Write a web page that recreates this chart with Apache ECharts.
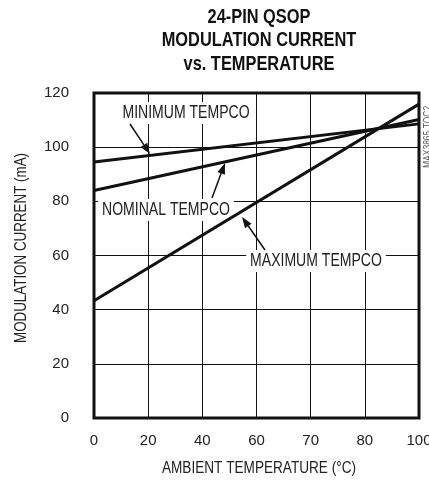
<!DOCTYPE html>
<html><head><meta charset="utf-8">
<script src="https://cdn.jsdelivr.net/npm/echarts@6/dist/echarts.min.js"></script>
<style>html,body{margin:0;padding:0;background:#fff}#c{width:429px;height:481px}</style>
</head><body><div id="c"></div>
<script>
var FONT = '"Liberation Sans",Arial,sans-serif';
var titleLines = ['24-PIN QSOP', 'MODULATION CURRENT', 'vs. TEMPERATURE'];
var xTickLabels = ['0', '20', '40', '60', '70', '80', '100'];
var yMin = 0, yMax = 120, yStep = 20;
var xName = 'AMBIENT TEMPERATURE (°C)';
var yName = 'MODULATION CURRENT (mA)';
var figId = 'MAX3865 TOC2';
// endpoints at first and last tick (x label, mA)
var minTempcoX = ['0', '100'];
var minTempcoY = [94.5, 108.6];
var nomTempcoX = ['0', '100'];
var nomTempcoY = [84.0, 110.2];
var maxTempcoX = ['0', '100'];
var maxTempcoY = [43.3, 115.9];
var seriesNames = ['MINIMUM TEMPCO', 'NOMINAL TEMPCO', 'MAXIMUM TEMPCO'];

function pairs(xs, ys) { return xs.map(function (x, i) { return [x, ys[i]]; }); }

var chart = echarts.init(document.getElementById('c'), null, {renderer: 'canvas'});

function arrow(x1, y1, x2, y2) {
  var dx = x2 - x1, dy = y2 - y1, L = Math.sqrt(dx * dx + dy * dy);
  var ux = dx / L, uy = dy / L, hl = 11, hw = 4;
  var bx = x2 - ux * hl, by = y2 - uy * hl;
  return [
    {type: 'line', shape: {x1: x1, y1: y1, x2: bx, y2: by}, style: {stroke: '#111', lineWidth: 1.5}, z: 40},
    {type: 'polygon', shape: {points: [[x2, y2], [bx - uy * hw, by + ux * hw], [bx + uy * hw, by - ux * hw]]}, style: {fill: '#111'}, z: 40}
  ];
}

function ctext(text, cx, cy, size, sx, opts) {
  opts = opts || {};
  var st = {text: text, font: (opts.bold ? 'bold ' : '') + size + 'px ' + FONT, fill: opts.fill || '#222',
    align: opts.align || 'center', verticalAlign: 'middle'};
  if (opts.bg) { st.backgroundColor = '#fff'; st.padding = [2, 5]; }
  return {type: 'text', x: cx, y: cy, scaleX: sx, rotation: opts.rotation || 0, z: opts.z || 10, style: st};
}

var graphics = [];
titleLines.forEach(function (t, i) {
  graphics.push(ctext(t, 259, 17 + i * 23.7, 20.5, 0.8, {bold: true, fill: '#111'}));
});
graphics.push(ctext(seriesNames[0], 186, 113, 18, 0.78, {bg: true}));
graphics.push(ctext(seriesNames[1], 166, 210, 18, 0.78, {bg: true}));
graphics.push(ctext(seriesNames[2], 316, 261, 18, 0.78, {bg: true}));
graphics = graphics.concat(arrow(130, 124, 150, 154), arrow(212, 198, 225, 163), arrow(265, 250, 242, 217));
graphics.push(ctext(xName, 259, 468, 17, 0.8));
graphics.push(ctext(yName, 21, 248, 17, 0.787, {rotation: Math.PI / 2}));
graphics.push(ctext(figId, 428, 168, 10, 0.85, {rotation: Math.PI / 2, align: 'left', fill: '#555'}));

var lineStyle = {color: '#111', width: 3};
chart.setOption({
  animation: false,
  backgroundColor: '#fff',
  textStyle: {fontFamily: FONT},
  grid: {left: 94, right: 10, top: 93, bottom: 63, outerBoundsMode: 'none', containLabel: false,
    show: true, borderColor: '#111', borderWidth: 3, backgroundColor: 'transparent'},
  xAxis: {
    type: 'category', data: xTickLabels, boundaryGap: false,
    axisLine: {show: false}, axisTick: {show: false},
    axisLabel: {margin: 15, fontSize: 15, color: '#222', fontFamily: FONT, showMaxLabel: true},
    splitLine: {show: true, lineStyle: {color: '#111', width: 1}}
  },
  yAxis: {
    type: 'value', min: yMin, max: yMax, interval: yStep,
    axisLine: {show: false}, axisTick: {show: false},
    axisLabel: {margin: 25, fontSize: 15, color: '#222', fontFamily: FONT},
    splitLine: {show: true, lineStyle: {color: '#111', width: 1}}
  },
  series: [
    {name: seriesNames[0], type: 'line', data: pairs(minTempcoX, minTempcoY), symbol: 'none', lineStyle: lineStyle, z: 30},
    {name: seriesNames[1], type: 'line', data: pairs(nomTempcoX, nomTempcoY), symbol: 'none', lineStyle: lineStyle, z: 30},
    {name: seriesNames[2], type: 'line', data: pairs(maxTempcoX, maxTempcoY), symbol: 'none', lineStyle: lineStyle, z: 30}
  ],
  graphic: graphics
});
</script></body></html>
